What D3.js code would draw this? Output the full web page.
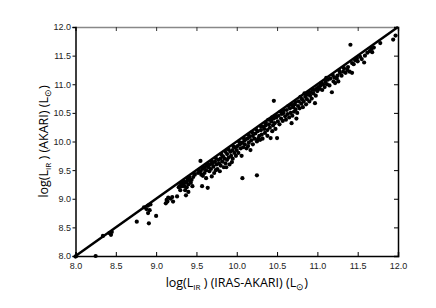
<!DOCTYPE html>
<html>
<head>
<meta charset="utf-8">
<script src="https://cdn.jsdelivr.net/npm/d3@7"></script>
<style>
  body { margin: 0; background: #fff; }
  .tick text { font-family: "Liberation Sans", Arial, sans-serif; font-size: 9px; fill: #222; }
</style>
</head>
<body>
<div id="chart"></div>
<script>
// ticks
var xTicks = [8.0, 8.5, 9.0, 9.5, 10.0, 10.5, 11.0, 11.5, 12.0];
var yTicks = [8.0, 8.5, 9.0, 9.5, 10.0, 10.5, 11.0, 11.5, 12.0];

// galaxies: [log L_IR (IRAS-AKARI), log L_IR (AKARI)]
var lowLum = [[8.00,7.99],[8.01,8.00],[8.25,8.00],[8.34,8.35],[8.42,8.40],[8.44,8.37],[8.45,8.42],
  [8.76,8.60],[8.91,8.57],[9.00,8.70],[8.85,8.85],[8.88,8.82],[8.90,8.88],[8.92,8.80],[8.90,8.75],[8.93,8.90]];
var lirg9 = [[9.12,8.92],[9.13,8.98],[9.15,9.02],[9.14,8.95],[9.21,8.95],[9.26,9.04],[9.18,9.00],[9.20,9.03],
  [9.28,9.20],[9.30,9.15],[9.33,9.25],[9.35,9.22],[9.36,9.28],[9.38,9.30],[9.36,9.15],[9.40,9.12],[9.37,9.06],
  [9.38,9.20],[9.40,9.25],[9.42,9.32],[9.44,9.33],[9.45,9.22],[9.46,9.38],[9.48,9.42],[9.32,9.22],[9.34,9.30],
  [9.39,9.35],[9.43,9.28],[9.29,9.22],[9.31,9.27],[9.41,9.38],[9.47,9.44]];
var lirg95 = [[9.55,9.66],[9.57,9.22],[9.64,9.19],[9.69,9.39],[9.52,9.45],[9.53,9.50],[9.55,9.48],[9.56,9.42],
  [9.58,9.52],[9.60,9.55],[9.60,9.45],[9.62,9.50],[9.63,9.58],[9.65,9.55],[9.66,9.48],[9.67,9.60],[9.68,9.52],
  [9.70,9.62],[9.71,9.56],[9.72,9.45],[9.73,9.65],[9.75,9.60],[9.76,9.52],[9.77,9.68],[9.78,9.62],[9.80,9.70],
  [9.80,9.58],[9.82,9.65],[9.83,9.74],[9.84,9.55],[9.85,9.70],[9.86,9.62],[9.88,9.78],[9.88,9.68],[9.90,9.72],
  [9.91,9.60],[9.92,9.82],[9.93,9.75],[9.95,9.85],[9.95,9.70],[9.97,9.80],[9.98,9.90],[9.99,9.75],[9.58,9.40],
  [9.62,9.36],[9.74,9.50],[9.79,9.48],[9.87,9.55],[9.94,9.64],[9.57,9.54],[9.64,9.61],[9.69,9.65],[9.74,9.71],
  [9.81,9.77],[9.86,9.82],[9.90,9.86],[9.96,9.91]];
var lirg10 = [[10.07,9.36],[10.25,9.41],[10.06,9.75],[10.17,9.85],[10.26,10.03],[10.29,10.03],[10.42,10.06],
  [10.50,10.06],[10.46,10.71],[10.00,9.85],[10.01,9.92],[10.02,9.80],[10.04,9.95],[10.05,9.88],[10.07,9.98],
  [10.08,9.90],[10.10,9.95],[10.10,10.02],[10.12,9.88],[10.13,10.05],[10.15,9.98],[10.16,10.08],[10.18,10.02],
  [10.20,10.10],[10.20,9.95],[10.22,10.05],[10.23,10.14],[10.25,10.00],[10.26,10.18],[10.28,10.10],[10.30,10.20],
  [10.31,10.12],[10.32,10.05],[10.34,10.22],[10.35,10.15],[10.36,10.28],[10.38,10.20],[10.38,10.10],[10.40,10.30],
  [10.41,10.24],[10.43,10.35],[10.44,10.18],[10.45,10.28],[10.46,10.40],[10.47,10.32],[10.48,10.22],[10.49,10.42],
  [10.14,9.92],[10.27,10.06],[10.33,10.26],[10.39,10.38],[10.44,10.42],[10.03,9.99],[10.09,10.05],[10.15,10.11],
  [10.19,10.16],[10.24,10.21],[10.30,10.26],[10.36,10.33],[10.42,10.38],[10.48,10.45]];
var lirg105 = [[10.68,10.32],[10.74,10.40],[10.97,10.67],[10.51,10.35],[10.52,10.45],[10.53,10.30],[10.55,10.40],
  [10.56,10.48],[10.57,10.36],[10.58,10.50],[10.60,10.44],[10.61,10.38],[10.62,10.55],[10.63,10.48],[10.65,10.42],
  [10.66,10.58],[10.67,10.50],[10.69,10.45],[10.70,10.60],[10.71,10.52],[10.72,10.65],[10.73,10.56],[10.75,10.50],
  [10.76,10.62],[10.77,10.70],[10.78,10.58],[10.80,10.66],[10.81,10.74],[10.82,10.60],[10.83,10.70],[10.85,10.78],
  [10.86,10.65],[10.87,10.74],[10.88,10.82],[10.90,10.70],[10.91,10.80],[10.92,10.86],[10.93,10.75],[10.95,10.84],
  [10.96,10.90],[10.98,10.80],[10.99,10.92],[10.54,10.52],[10.64,10.62],[10.79,10.78],[10.84,10.84],[10.58,10.55],
  [10.68,10.64],[10.73,10.69],[10.89,10.86],[10.94,10.91]];
var lirg11 = [[11.18,10.86],[11.26,11.05],[11.00,10.88],[11.01,10.95],[11.03,10.92],[11.04,10.98],[11.06,10.90],
  [11.07,11.00],[11.09,10.95],[11.10,11.04],[11.12,11.00],[11.13,11.08],[11.15,10.98],[11.16,11.10],[11.20,11.05],
  [11.21,11.12],[11.22,11.02],[11.24,11.10],[11.25,11.15],[11.28,11.20],[11.30,11.15],[11.32,11.22],[11.33,11.28],
  [11.35,11.20],[11.37,11.25],[11.38,11.30],[11.40,11.22],[11.43,11.37],[11.43,11.20],[11.45,11.35],[11.47,11.42],
  [11.49,11.45],[11.41,11.69],[11.11,11.11],[11.19,11.16],[11.05,11.02],[11.27,11.24]];
var ulirg = [[11.50,11.40],[11.53,11.48],[11.55,11.44],[11.58,11.38],[11.59,11.50],[11.62,11.55],[11.65,11.58],
  [11.67,11.62],[11.68,11.56],[11.70,11.64],[11.78,11.72],[11.94,11.78],[11.97,11.85]];

var data = [].concat(lowLum, lirg9, lirg95, lirg10, lirg105, lirg11, ulirg);

var margin = { top: 27, right: 38, bottom: 52, left: 75.5 };
var width = 436 - margin.left - margin.right;
var height = 308 - margin.top - margin.bottom;

var svg = d3.select("#chart")
    .append("svg")
    .attr("width", 436)
    .attr("height", 308)
    .append("g")
    .attr("transform", "translate(" + margin.left + "," + margin.top + ")");

var x = d3.scaleLinear().domain([8, 12]).range([0, width]);
var y = d3.scaleLinear().domain([8, 12]).range([height, 0]);

// top axis (grey, ticks inside)
svg.append("g")
    .call(d3.axisTop(x).tickValues(xTicks).tickSize(-4).tickFormat(""))
    .call(g => g.select(".domain").attr("stroke", "#888").attr("stroke-width", 1.5))
    .call(g => g.selectAll(".tick line").attr("stroke", "#333"));

// right axis
svg.append("g")
    .attr("transform", "translate(" + width + ",0)")
    .call(d3.axisRight(y).tickValues(yTicks).tickSize(-4).tickFormat(""))
    .call(g => g.select(".domain").attr("stroke", "#000").attr("stroke-width", 1.5));

// bottom axis
svg.append("g")
    .attr("transform", "translate(0," + height + ")")
    .call(d3.axisBottom(x).tickValues(xTicks).tickSize(-4).tickPadding(6.5).tickFormat(d3.format(".1f")))
    .call(g => g.select(".domain").attr("stroke", "#000").attr("stroke-width", 1.5));

// left axis
svg.append("g")
    .call(d3.axisLeft(y).tickValues(yTicks).tickSize(3).tickPadding(1.5).tickFormat(d3.format(".1f")))
    .call(g => g.select(".domain").attr("stroke", "#000").attr("stroke-width", 1.5));

// one-to-one line
svg.append("line")
    .attr("x1", x(8)).attr("y1", y(8))
    .attr("x2", x(12)).attr("y2", y(12))
    .attr("stroke", "#000")
    .attr("stroke-width", 2.5);

// dots
svg.selectAll("circle.dot")
    .data(data)
    .enter()
    .append("circle")
    .attr("class", "dot")
    .attr("cx", d => x(d[0]))
    .attr("cy", d => y(d[1]))
    .attr("r", 2.1)
    .style("fill", "#000");

// axis titles
function title(sel, mid) {
    sel.append("tspan").text("log(L");
    sel.append("tspan").attr("font-size", "8px").attr("dy", 3).text("IR");
    sel.append("tspan").attr("dy", -3).text(" ) " + mid + " (L");
    sel.append("tspan").attr("font-size", "9px").attr("dy", 3).text("\u2299");
    sel.append("tspan").attr("dy", -3).text(")");
}

var xt = svg.append("text")
    .attr("text-anchor", "middle")
    .attr("x", width / 2)
    .attr("y", height + 31)
    .style("font-family", "'Open Sans', sans-serif")
    .style("font-size", "12.5px")
    .style("fill", "#000");
title(xt, "(IRAS-AKARI)");

var yt = svg.append("text")
    .attr("text-anchor", "middle")
    .attr("transform", "rotate(-90)")
    .attr("x", -height / 2)
    .attr("y", -28)
    .style("font-family", "'Open Sans', sans-serif")
    .style("font-size", "12.5px")
    .style("fill", "#000");
title(yt, "(AKARI)");
</script>
</body>
</html>
